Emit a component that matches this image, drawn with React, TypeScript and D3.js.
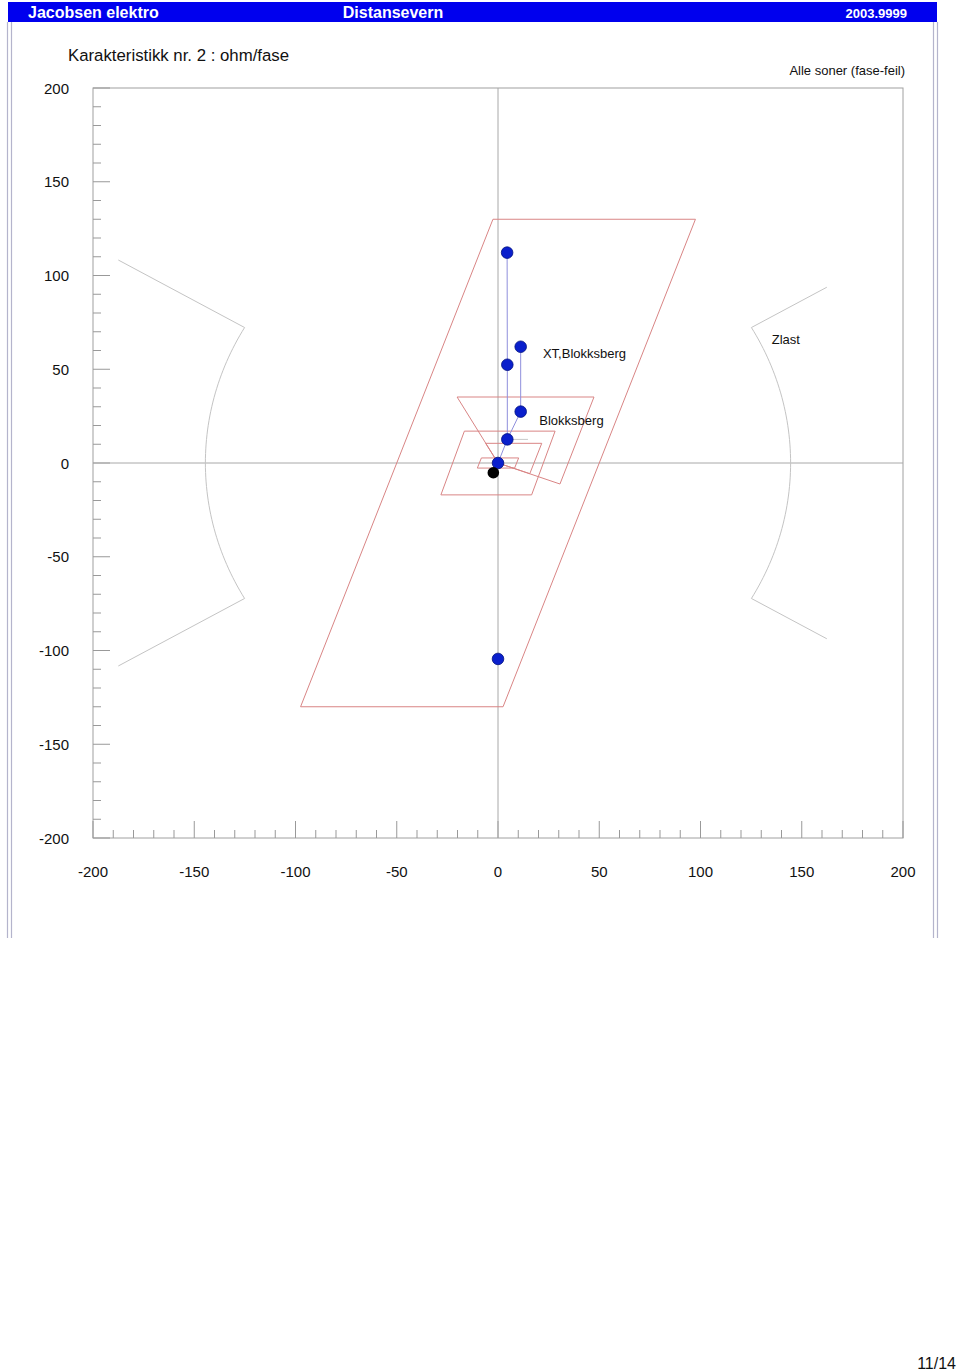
import React from "react";
import * as d3 from "d3";

// ---- data ----
const X_DOMAIN: [number, number] = [-200, 200];
const Y_DOMAIN: [number, number] = [-200, 200];
const TICK_LABELS = [-200, -150, -100, -50, 0, 50, 100, 150, 200];
const MINOR_STEP = 10;

// zone polygons [R, X] (ohm/fase)
const zone1 = [[-2.5, 130], [97.5, 130], [2.5, -130], [-97.5, -130]];
const zone2 = [[0, 0], [-20.2, 35.2], [47.4, 35.2], [30.6, -11.2]];
const zone3 = [[-16.6, 17], [28.2, 17], [16.6, -17], [-28.2, -17]];
const zone4 = [[0, 0], [-6.1, 10.5], [21.6, 10.5], [15.7, -5.7]];
const zone5 = [[-8.2, 2.7], [10.2, 2.7], [8.2, -2.7], [-10.2, -2.7]];
const zones = [zone1, zone2, zone3, zone4, zone5];

// load encroachment (Zlast)
const ZLAST_RADIUS = 144.5;
const ZLAST_HALF_ANGLE = 30;
const ZLAST_LEFT_REACH = 216.5;
const ZLAST_RIGHT_REACH = 187.5;

// measured points
const pointR = [4.5, 11.2, 4.6, 11.2, 4.6, 0, 0];
const pointX = [112.2, 62.0, 52.4, 27.4, 12.6, 0, -104.5];
const blackR = [-2.3];
const blackX = [-5.2];

// connecting lines (indices into points)
const pathA = [0, 2, 4];
const pathB = [1, 3, 4, 5];
const grayMark = [[4.6, 12.6], [14.8, 12.6]];

const labels = ["XT,Blokksberg", "Blokksberg", "Zlast"];
const labelR = [22.2, 20.4, 135.2];
const labelX = [56, 20.3, 63.3];

const FONT = "'Liberation Sans', Arial, Helvetica, sans-serif";

export default function App() {
  const x = d3.scaleLinear().domain(X_DOMAIN).range([93, 903]);
  const y = d3.scaleLinear().domain(Y_DOMAIN).range([838, 88]);
  const line = d3.line<number[]>().x((d) => x(d[0])).y((d) => y(d[1]));

  const minorTicks = d3.range(X_DOMAIN[0], X_DOMAIN[1] + 1, MINOR_STEP);

  const polar = (r: number, deg: number) => [
    r * Math.cos((deg * Math.PI) / 180),
    r * Math.sin((deg * Math.PI) / 180),
  ];
  const arcPts = (center: number) =>
    d3.range(center - ZLAST_HALF_ANGLE, center + ZLAST_HALF_ANGLE + 0.01, 1).map((a) => polar(ZLAST_RADIUS, a));

  const leftZ = [
    polar(ZLAST_LEFT_REACH, 180 - ZLAST_HALF_ANGLE),
    ...arcPts(180),
    polar(ZLAST_LEFT_REACH, 180 + ZLAST_HALF_ANGLE),
  ];
  const rightZ = [
    polar(ZLAST_RIGHT_REACH, ZLAST_HALF_ANGLE),
    ...arcPts(0).reverse(),
    polar(ZLAST_RIGHT_REACH, -ZLAST_HALF_ANGLE),
  ];

  const pts = pointR.map((r, i) => [r, pointX[i]]);

  return (
    <svg
      width={960}
      height={1371}
      style={{ position: "absolute", left: 0, top: 0, background: "#fff" }}
      fontFamily={FONT}
    >
      {/* page frame */}
      <g stroke="#b4b4cc" strokeWidth={1.2}>
        <line x1={7.5} x2={7.5} y1={22} y2={938} />
        <line x1={11.5} x2={11.5} y1={22} y2={938} />
        <line x1={933.5} x2={933.5} y1={22} y2={938} />
        <line x1={937.5} x2={937.5} y1={22} y2={938} />
      </g>
      {/* header */}
      <rect x={8} y={2} width={929} height={20} fill="#0000ee" />
      <text x={28} y={18} fill="#fff" fontWeight="bold" fontSize={16}>Jacobsen elektro</text>
      <text x={393} y={18} fill="#fff" fontWeight="bold" fontSize={16} textAnchor="middle">Distansevern</text>
      <text x={907} y={18} fill="#fff" fontWeight="bold" fontSize={13} textAnchor="end">2003.9999</text>

      <text x={68} y={61} fontSize={16.8} fill="#111">Karakteristikk nr. 2 : ohm/fase</text>
      <text x={905} y={75} fontSize={13} textAnchor="end" fill="#111">Alle soner (fase-feil)</text>

      {/* plot frame */}
      <rect x={x(X_DOMAIN[0])} y={y(Y_DOMAIN[1])} width={x(X_DOMAIN[1]) - x(X_DOMAIN[0])} height={y(Y_DOMAIN[0]) - y(Y_DOMAIN[1])} fill="none" stroke="#a0a0a0" strokeWidth={1} />

      {/* ticks */}
      <g stroke="#999" strokeWidth={1}>
        {minorTicks.map((t) => {
          const len = t % 50 === 0 ? 17 : 8;
          return <line key={"y" + t} x1={x(X_DOMAIN[0])} x2={x(X_DOMAIN[0]) + len} y1={y(t)} y2={y(t)} />;
        })}
        {minorTicks.map((t) => {
          const len = t % 50 === 0 ? 17 : 8;
          return <line key={"x" + t} x1={x(t)} x2={x(t)} y1={y(Y_DOMAIN[0])} y2={y(Y_DOMAIN[0]) - len} />;
        })}
      </g>
      {TICK_LABELS.map((t) => (
        <text key={"yl" + t} x={69} y={y(t) + 5.5} fontSize={15} textAnchor="end" fill="#111">{t}</text>
      ))}
      {TICK_LABELS.map((t) => (
        <text key={"xl" + t} x={x(t)} y={877} fontSize={15} textAnchor="middle" fill="#111">{t}</text>
      ))}

      {/* axes through origin */}
      <g stroke="#a8a8a8" strokeWidth={1}>
        <line x1={x(0)} x2={x(0)} y1={y(Y_DOMAIN[1])} y2={y(Y_DOMAIN[0])} />
        <line x1={x(X_DOMAIN[0])} x2={x(X_DOMAIN[1])} y1={y(0)} y2={y(0)} />
      </g>

      {/* Zlast */}
      <path d={line(leftZ) || ""} fill="none" stroke="#c4c4c4" strokeWidth={1} />
      <path d={line(rightZ) || ""} fill="none" stroke="#c4c4c4" strokeWidth={1} />

      {/* zones */}
      {zones.map((z, i) => (
        <path key={"z" + i} d={(line(z) || "") + "Z"} fill="none" stroke="#d98585" strokeWidth={1} />
      ))}

      {/* connecting lines */}
      <path d={line(grayMark) || ""} stroke="#c8c8c8" strokeWidth={1} fill="none" />
      <path d={line(pathA.map((i) => pts[i])) || ""} stroke="#8f8fdc" strokeWidth={1} fill="none" />
      <path d={line(pathB.map((i) => pts[i])) || ""} stroke="#8f8fdc" strokeWidth={1} fill="none" />

      {/* points */}
      {pts.map((p, i) => (
        <circle key={"p" + i} cx={x(p[0])} cy={y(p[1])} r={5.8} fill="#0a1fcc" stroke="#001080" strokeWidth={0.8} />
      ))}
      {blackR.map((r, i) => (
        <circle key={"b" + i} cx={x(r)} cy={y(blackX[i])} r={5.8} fill="#000" />
      ))}

      {labels.map((l, i) => (
        <text key={l} x={x(labelR[i])} y={y(labelX[i])} fontSize={13} fill="#111">{l}</text>
      ))}

      <text x={956} y={1369} fontSize={16} textAnchor="end" fill="#111">11/14</text>
    </svg>
  );
}
